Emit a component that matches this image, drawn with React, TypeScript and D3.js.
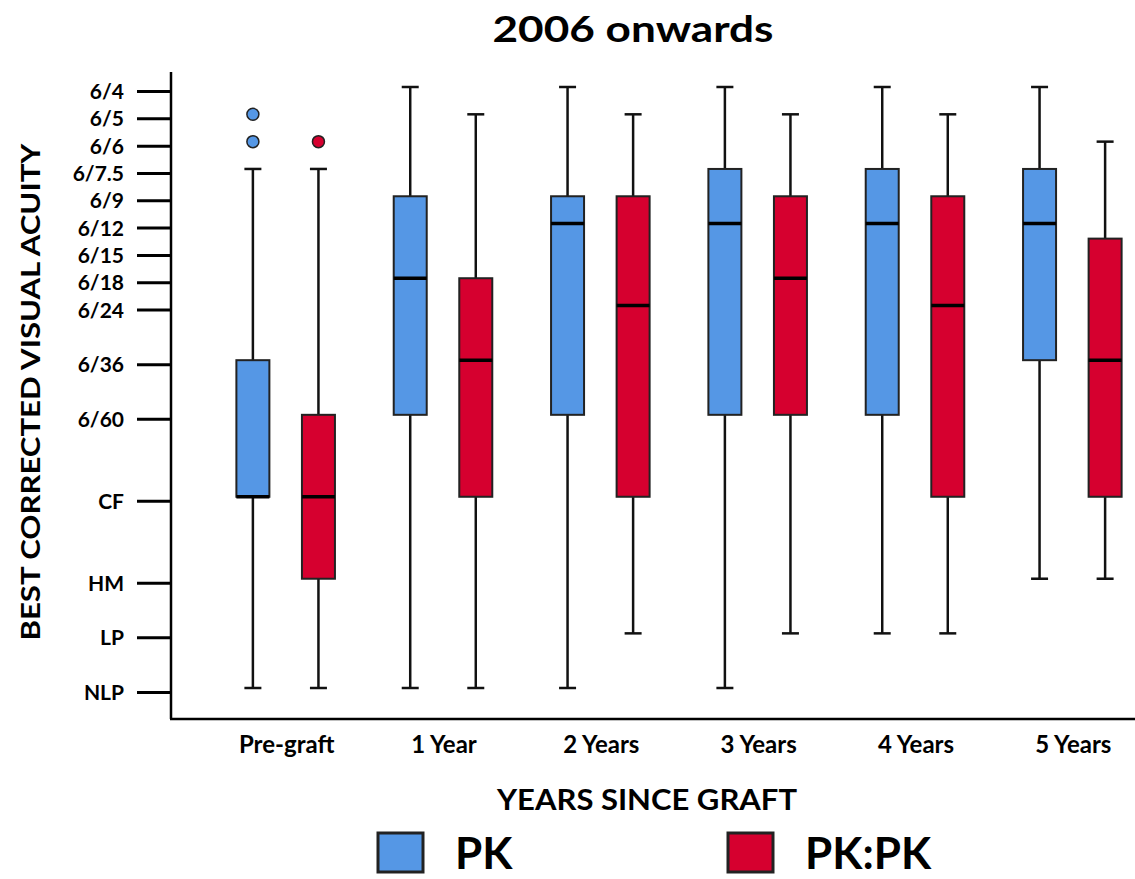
import React, { useRef, useEffect } from "react";
import * as d3 from "d3";

// categories along x
const groups = ["Pre-graft", "1 Year", "2 Years", "3 Years", "4 Years", "5 Years"];
const seriesNames = ["PK", "PK:PK"];
const seriesColors = ["#5597e5", "#d6002f"];

// visual acuity categories, top (best) to bottom (worst), and their rank on the axis
const acuityLabels = ["6/4", "6/5", "6/6", "6/7.5", "6/9", "6/12", "6/15", "6/18", "6/24", "6/36", "6/60", "CF", "HM", "LP", "NLP"];
const acuityRank = [0, 1, 2, 3, 4, 5, 6, 7, 8, 10, 12, 15, 18, 20, 22];

// PK box stats per group (upper whisker, box top, median, box bottom, lower whisker)
const pkHigh = ["6/7.5", "6/4", "6/4", "6/4", "6/4", "6/4"];
const pkTop = ["6/36", "6/9", "6/9", "6/7.5", "6/7.5", "6/7.5"];
const pkMedian = ["CF", "6/18", "6/12", "6/12", "6/12", "6/12"];
const pkBottom = ["CF", "6/60", "6/60", "6/60", "6/60", "6/36"];
const pkLow = ["NLP", "NLP", "NLP", "NLP", "LP", "HM"];
const pkOutliers = [["6/5", "6/6"], [], [], [], [], []];

// PK:PK box stats per group (numbers are ranks between two labels)
const rpHigh = ["6/7.5", "6/5", "6/5", "6/5", "6/5", "6/6"];
const rpTop: (string | number)[] = ["6/60", "6/18", "6/9", "6/9", "6/9", 5.55];
const rpMedian = ["CF", "6/36", "6/24", "6/18", "6/24", "6/36"];
const rpBottom = ["HM", "CF", "CF", "6/60", "CF", "CF"];
const rpLow = ["NLP", "NLP", "LP", "LP", "LP", "HM"];
const rpOutliers = [["6/6"], [], [], [], [], []];

const rank = (v: string | number) => (typeof v === "number" ? v : acuityRank[acuityLabels.indexOf(v)]);

const FONT = "Lato, 'Open Sans', sans-serif";

const App = () => {
	const svgRef = useRef<SVGSVGElement>(null);
	const width = 1135;
	const height = 879;

	useEffect(() => {
		const svg = d3.select(svgRef.current);
		svg.selectAll("*").remove();

		const x = d3.scaleBand().domain(groups).range([207, 1151]);
		const xs = d3.scalePoint().domain(seriesNames).range([0, x.bandwidth()]).padding(0.7);
		const y = d3.scaleLinear().domain([0, 22]).range([87, 688]);
		const boxW = 33;
		const tickShift = 4.5;

		// title
		svg.append("text")
			.attr("x", 633).attr("y", 42)
			.attr("text-anchor", "middle")
			.attr("font-family", FONT).attr("font-weight", 700).attr("font-size", 37)
			.attr("textLength", 281).attr("lengthAdjust", "spacingAndGlyphs")
			.text("2006 onwards");

		// axes lines
		svg.append("line").attr("x1", 171).attr("x2", 171).attr("y1", 72).attr("y2", 719)
			.attr("stroke", "#000").attr("stroke-width", 2.5);
		svg.append("line").attr("x1", 170).attr("x2", 1135).attr("y1", 719).attr("y2", 719)
			.attr("stroke", "#000").attr("stroke-width", 2.5);

		// y ticks
		const yt = svg.append("g").attr("transform", `translate(0, ${tickShift})`);
		acuityLabels.forEach((lab, i) => {
			const yy = y(acuityRank[i]);
			yt.append("line").attr("x1", 137).attr("x2", 171).attr("y1", yy).attr("y2", yy)
				.attr("stroke", "#000").attr("stroke-width", 3);
			yt.append("text").attr("x", 124).attr("y", yy).attr("dy", "0.36em")
				.attr("text-anchor", "end")
				.attr("font-family", FONT).attr("font-weight", 700).attr("font-size", 21)
				.text(lab);
		});

		// y title
		svg.append("text")
			.attr("transform", `translate(40, 392) rotate(-90)`)
			.attr("text-anchor", "middle")
			.attr("font-family", FONT).attr("font-weight", 700).attr("font-size", 27)
			.attr("textLength", 497).attr("lengthAdjust", "spacingAndGlyphs")
			.text("BEST CORRECTED VISUAL ACUITY");

		// x labels
		groups.forEach(g => {
			svg.append("text")
				.attr("x", x(g)! + x.bandwidth() / 2 + 1).attr("y", 753)
				.attr("text-anchor", "middle")
				.attr("font-family", FONT).attr("font-weight", 700).attr("font-size", 24)
				.text(g);
		});

		svg.append("text")
			.attr("x", 647).attr("y", 810)
			.attr("text-anchor", "middle")
			.attr("font-family", FONT).attr("font-weight", 700).attr("font-size", 29)
			.attr("textLength", 300).attr("lengthAdjust", "spacingAndGlyphs")
			.text("YEARS SINCE GRAFT");

		// boxes
		const series = [
			{ name: "PK", high: pkHigh, top: pkTop, med: pkMedian, bot: pkBottom, low: pkLow, out: pkOutliers },
			{ name: "PK:PK", high: rpHigh, top: rpTop, med: rpMedian, bot: rpBottom, low: rpLow, out: rpOutliers },
		];

		series.forEach((s, si) => {
			const g = svg.append("g");
			groups.forEach((grp, gi) => {
				const cx = x(grp)! + xs(s.name)!;
				const yHigh = y(rank(s.high[gi]));
				const yTop = y(rank(s.top[gi]));
				const yMed = y(rank(s.med[gi]));
				const yBot = y(rank(s.bot[gi]));
				const yLow = y(rank(s.low[gi]));

				// whiskers
				g.append("line").attr("x1", cx).attr("x2", cx).attr("y1", yHigh).attr("y2", yTop)
					.attr("stroke", "#111").attr("stroke-width", 2.5);
				g.append("line").attr("x1", cx).attr("x2", cx).attr("y1", yBot).attr("y2", yLow)
					.attr("stroke", "#111").attr("stroke-width", 2.5);
				[yHigh, yLow].forEach(yy => {
					g.append("line").attr("x1", cx - 8.5).attr("x2", cx + 8.5).attr("y1", yy).attr("y2", yy)
						.attr("stroke", "#111").attr("stroke-width", 2.5);
				});

				// box
				g.append("rect")
					.attr("x", cx - boxW / 2).attr("y", yTop)
					.attr("width", boxW).attr("height", yBot - yTop)
					.attr("fill", seriesColors[si])
					.attr("stroke", "#222").attr("stroke-width", 2);

				// median
				g.append("line").attr("x1", cx - boxW / 2).attr("x2", cx + boxW / 2).attr("y1", yMed).attr("y2", yMed)
					.attr("stroke", "#000").attr("stroke-width", 3.5);

				// outliers
				s.out[gi].forEach(v => {
					g.append("circle").attr("cx", cx).attr("cy", y(rank(v))).attr("r", 6)
						.attr("fill", seriesColors[si])
						.attr("stroke", "#222").attr("stroke-width", 1.5);
				});
			});
		});

		// legend
		const legendX = [378, 728];
		const legendTextX = [455, 805];
		seriesNames.forEach((n, i) => {
			svg.append("rect")
				.attr("x", legendX[i]).attr("y", 833)
				.attr("width", 45).attr("height", 39)
				.attr("fill", seriesColors[i])
				.attr("stroke", "#222").attr("stroke-width", 3);
			svg.append("text")
				.attr("x", legendTextX[i]).attr("y", 869)
				.attr("font-family", FONT).attr("font-weight", 700).attr("font-size", 44)
				.text(n);
		});
	});

	return (
		<svg ref={svgRef} width={width} height={height}
			style={{ position: "absolute", left: 0, top: 0, background: "#fff" }}>
		</svg>
	);
};

export default App;
